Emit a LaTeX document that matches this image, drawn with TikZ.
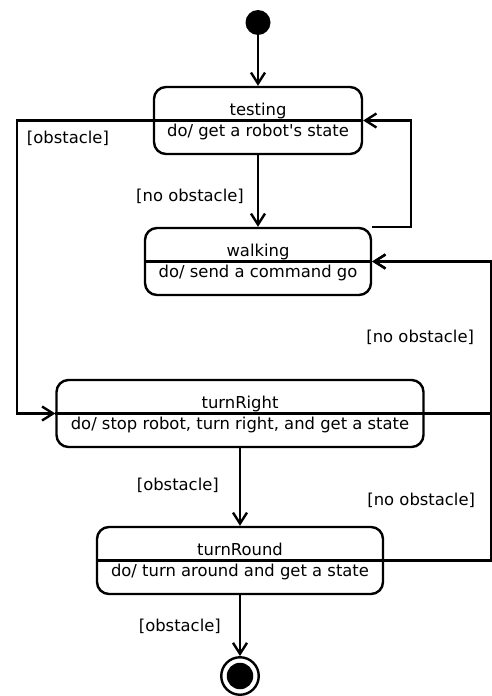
\documentclass[tikz,border=0pt]{standalone}
\usepackage{fontspec}
\newfontfamily\dejavu{DejaVu Sans}
\usetikzlibrary{arrows.meta,positioning}

\tikzset{
  state/.style={draw,rounded corners=12pt,line width=2.4pt,inner sep=0pt,minimum height=67pt},
  trans/.style={line width=2.4pt,-{Straight Barb[length=11pt,width=14pt]}},
  guard/.style={inner sep=0pt},
}

\begin{document}
\begin{tikzpicture}[x=1pt,y=-1pt,font=\dejavu\fontsize{16.4}{19}\selectfont]
\useasboundingbox (0,0) rectangle (492,696);

%start / end
\node[circle,fill,minimum size=25pt,inner sep=0pt] (init) at (258,22.5) {};
\node[circle,draw,line width=2.4pt,minimum size=37.5pt,inner sep=0pt] (final) at (240,676) {};
\node[circle,fill,minimum size=26.5pt,inner sep=0pt] (finaldot) at (final) {};

%states
\node[state,minimum width=208pt] (testing) at (258,120.5) {};
\node[state,minimum width=226pt] (walking) at (258,261.5) {};
\node[state,minimum width=367pt] (turnRight) at (240,413.5) {};
\node[state,minimum width=286pt] (turnRound) at (240,560.5) {};

%name, separator, do-activity
\foreach \s/\d in {testing/{get a robot's state},walking/{send a command go},
  turnRight/{stop robot, turn right, and get a state},turnRound/{turn around and get a state}}{
  \node[anchor=base] (\s-name) at ([yshift=5.5pt]\s.center) {\s};
  \node[anchor=base] (\s-do) at ([yshift=-15.5pt]\s.center) {do/ \d};
  \draw[line width=2.4pt] (\s.west) -- (\s.east);
}

%transitions
\draw[trans] (init) -- (testing);
\draw[trans] (testing) -- node[guard,pos=0.58,left=13pt] (g1) {[no obstacle]} (walking);
\draw[trans] (walking.north east) -- ++(39,0) |- (testing.east);
\draw[trans] (testing.west) -- ++(-136,0) node[guard,below right=9pt and 9pt] (g2) {[obstacle]} |- (turnRight.west);
\draw[trans] (turnRight.east) -- ++(66.5,0) |- node[guard,pos=0.25,left=16pt] (g3) {[no obstacle]} (walking.east);
\draw[trans] (turnRound.east) -- ++(107,0) |- node[guard,pos=0.1,left=15pt] (g4) {[no obstacle]} (walking.east);
\draw[trans] (turnRight) -- node[guard,pos=0.475,left=20pt] (g5) {[obstacle]} (turnRound);
\draw[trans] (turnRound) -- node[guard,pos=0.52,left=18pt] (g6) {[obstacle]} (final);

\end{tikzpicture}
\end{document}
